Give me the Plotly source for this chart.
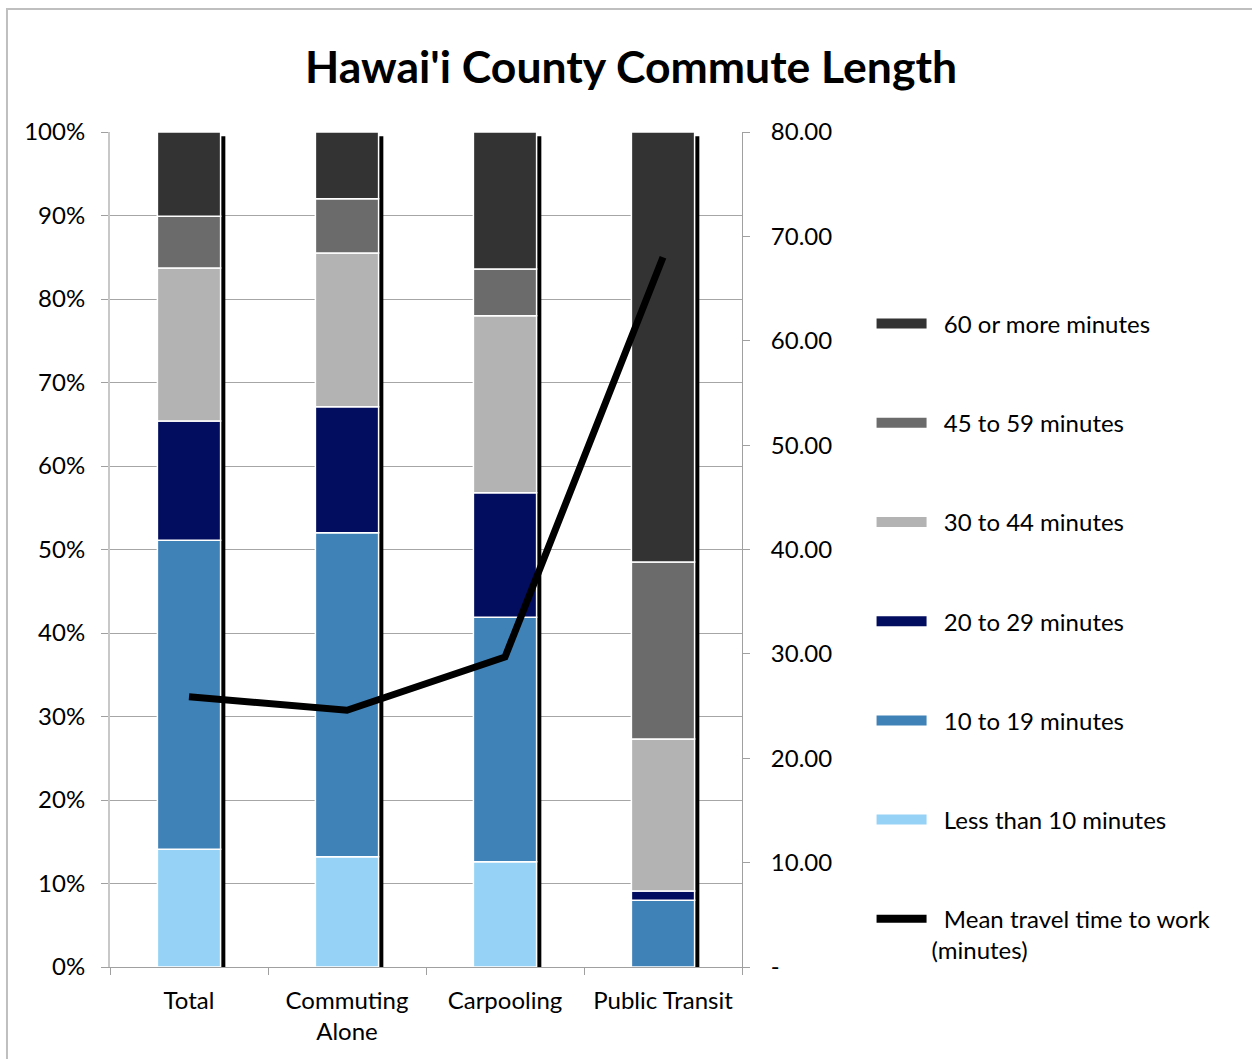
import plotly.graph_objects as go

# Commute mode categories
categories = ["Total", "Commuting<br>Alone", "Carpooling", "Public Transit"]

# Share of workers by travel time (percent), bottom to top of each stack
less_than_10 = [14.1, 13.2, 12.6, 0.0]
min_10_19 = [37.0, 38.8, 29.3, 8.0]
min_20_29 = [14.3, 15.1, 14.9, 1.1]
min_30_44 = [18.3, 18.4, 21.2, 18.2]
min_45_59 = [6.2, 6.5, 5.6, 21.2]
min_60_plus = [10.1, 8.0, 16.4, 51.5]

# Mean travel time to work (minutes), right axis
mean_travel_time = [25.9, 24.6, 29.7, 68.0]

# Axis ticks
pct_ticks = [0, 10, 20, 30, 40, 50, 60, 70, 80, 90, 100]
pct_tick_labels = [f"{v}%" for v in pct_ticks]
minute_ticks = [0, 10, 20, 30, 40, 50, 60, 70, 80]
minute_tick_labels = ["-", "10.00", "20.00", "30.00", "40.00", "50.00", "60.00", "70.00", "80.00"]

series = [
    ("Less than 10 minutes", less_than_10, "#95d2f6"),
    ("10 to 19 minutes", min_10_19, "#3f82b8"),
    ("20 to 29 minutes", min_20_29, "#020d5f"),
    ("30 to 44 minutes", min_30_44, "#b3b3b3"),
    ("45 to 59 minutes", min_45_59, "#6b6b6b"),
    ("60 or more minutes", min_60_plus, "#333333"),
]

FONT = "Lato"
FS = 24
BAR_W = 0.4
PAD = "\u00a0\u00a0"  # space between legend swatch and label

fig = go.Figure()

# Drop shadow behind each full stack
totals = [sum(s[1][i] for s in series) for i in range(len(categories))]
fig.add_trace(go.Bar(
    x=categories, y=totals, base=[-0.5] * len(categories),
    width=BAR_W, offset=-BAR_W / 2 + 0.03,
    marker=dict(color="#000000", line=dict(width=0)),
    showlegend=False, hoverinfo="skip",
))

# Stacked segments, bases accumulated from the series values
running = [0.0] * len(categories)
for name, vals, color in series:
    fig.add_trace(go.Bar(
        x=categories, y=vals, base=list(running),
        width=BAR_W, offset=-BAR_W / 2,
        marker=dict(color=color, line=dict(color="#ffffff", width=1.5)),
        name=name, showlegend=False,
    ))
    running = [r + v for r, v in zip(running, vals)]

# Mean travel time line on the secondary axis
fig.add_trace(go.Scatter(
    x=categories, y=mean_travel_time, yaxis="y2", mode="lines",
    line=dict(color="#000000", width=7),
    showlegend=False, name="Mean travel time to work (minutes)",
))

# Legend entries with wide swatches, top to bottom
for i, (name, vals, color) in enumerate(reversed(series)):
    fig.add_trace(go.Scatter(
        x=[None], y=[None], mode="lines", name=PAD + name,
        line=dict(color=color, width=13),
        legendgroup=f"g{i}", showlegend=True,
    ))
fig.add_trace(go.Scatter(
    x=[None], y=[None], mode="lines",
    name=PAD + "Mean travel time to work<br>(minutes)",
    line=dict(color="#000000", width=8),
    legendgroup="gline", showlegend=True,
))

fig.update_layout(
    width=1252, height=1059,
    margin=dict(l=110, r=510, t=132, b=92),
    paper_bgcolor="#ffffff", plot_bgcolor="#ffffff",
    barmode="overlay",
    font=dict(family=FONT, size=FS, color="#000000"),
    title=dict(
        text="<b>Hawai'i County Commute Length</b>",
        x=0.504, xanchor="center", y=0.936, yanchor="middle",
        font=dict(family=FONT, size=44.5, color="#000000"),
    ),
    xaxis=dict(
        type="category", range=[-0.5, 3.5],
        tickson="boundaries", ticks="outside", ticklen=7,
        tickcolor="#a0a0a0", showline=True, linecolor="#a0a0a0",
        showgrid=False, tickfont=dict(size=FS), ticklabelstandoff=12,
    ),
    yaxis=dict(
        range=[0, 100], tickvals=pct_ticks, ticktext=pct_tick_labels,
        ticks="outside", ticklen=7, tickcolor="#a0a0a0",
        showline=True, linecolor="#c8c8c8", linewidth=2,
        showgrid=True, gridcolor="#a6a6a6", gridwidth=1,
        zeroline=False, tickfont=dict(size=FS), ticklabelstandoff=11,
    ),
    yaxis2=dict(
        range=[0, 80], overlaying="y", side="right",
        tickvals=minute_ticks, ticktext=minute_tick_labels,
        ticks="outside", ticklen=7, tickcolor="#a0a0a0",
        showline=True, linecolor="#a0a0a0",
        showgrid=False, zeroline=False, tickfont=dict(size=FS),
        ticklabelstandoff=16,
    ),
    legend=dict(
        x=1.205, xanchor="left", y=0.797, yanchor="top",
        traceorder="grouped", tracegroupgap=65, itemwidth=50,
        valign="top",
        font=dict(family=FONT, size=FS),
        bgcolor="rgba(0,0,0,0)",
    ),
    shapes=[dict(
        type="rect", xref="paper", yref="paper",
        x0=-0.163, x1=1.9, y0=-0.2, y1=1.1473,
        line=dict(color="#bfbfbf", width=2), layer="below",
    )],
)

fig.write_html("out.html")
